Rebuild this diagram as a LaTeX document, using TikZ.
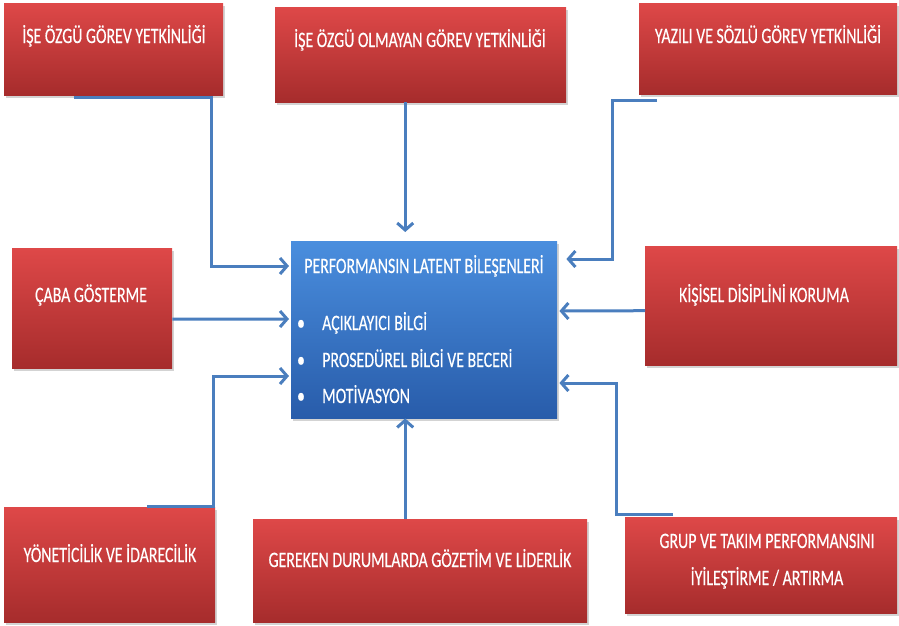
\documentclass[tikz,border=0pt]{standalone}
\usepackage{fontspec}
\setmainfont{Carlito}[FakeStretch=0.72,FakeBold=0.3]
\usetikzlibrary{arrows.meta,shadows,calc}

\definecolor{redtop}{RGB}{222,72,72}
\definecolor{redbot}{RGB}{166,44,44}
\definecolor{bluetop}{RGB}{74,142,222}
\definecolor{bluebot}{RGB}{40,92,170}
\definecolor{linkblue}{RGB}{74,126,190}

\tikzset{
  card/.style={rectangle, anchor=north west, inner sep=0pt, draw=none,
    drop shadow={opacity=0.35, shadow xshift=2pt, shadow yshift=-3pt}},
  redcard/.style={card, top color=redtop, bottom color=redbot},
  bluecard/.style={card, top color=bluetop, bottom color=bluebot},
  lbl/.style={text=white, font=\fontsize{22}{26}\selectfont, anchor=base, inner sep=0pt},
  item/.style={lbl, anchor=base west},
  conn/.style={draw=linkblue, line width=3pt,
    -{Straight Barb[length=7pt,width=16pt]}}
}

\begin{document}
\begin{tikzpicture}[x=1pt,y=-1pt]
\useasboundingbox (0,0) rectangle (899,625);

% surrounding cards
\node[redcard, minimum width=219pt, minimum height=92pt] (b1) at (4,3) {};
\node[redcard, minimum width=291pt, minimum height=95pt] (b2) at (275,7) {};
\node[redcard, minimum width=258pt, minimum height=91pt] (b3) at (639,3) {};
\node[redcard, minimum width=160pt, minimum height=120pt] (b4) at (12,248) {};
\node[redcard, minimum width=252pt, minimum height=119pt] (b6) at (645,246) {};
\node[redcard, minimum width=211pt, minimum height=115pt] (b7) at (4,507) {};
\node[redcard, minimum width=334pt, minimum height=103pt] (b8) at (253,519) {};
\node[redcard, minimum width=272pt, minimum height=96pt] (b9) at (625,517) {};

% central card
\node[bluecard, minimum width=266pt, minimum height=177pt] (c) at (291,241) {};

% card texts
\node[lbl] (t1) at (114,43) {İŞE ÖZGÜ GÖREV YETKİNLİĞİ};
\node[lbl] (t2) at (420,47) {İŞE ÖZGÜ OLMAYAN GÖREV YETKİNLİĞİ};
\node[lbl] (t3) at (768,43) {YAZILI VE SÖZLÜ GÖREV YETKİNLİĞİ};
\node[lbl] (t4) at (91,302) {ÇABA GÖSTERME};
\node[lbl] (t6) at (764,302) {KİŞİSEL DİSİPLİNİ KORUMA};
\node[lbl] (t7) at (110,562) {YÖNETİCİLİK VE İDARECİLİK};
\node[lbl] (t8) at (420,567) {GEREKEN DURUMLARDA GÖZETİM VE LİDERLİK};
\node[lbl] (t9a) at (767,548) {GRUP VE TAKIM PERFORMANSINI};
\node[lbl] (t9b) at (767,585) {İYİLEŞTİRME / ARTIRMA};

\node[lbl] (ct) at (424,273) {PERFORMANSIN LATENT BİLEŞENLERİ};
\node[lbl] (k1) at (301,330) {\textbullet};
\node[lbl] (k2) at (301,367) {\textbullet};
\node[lbl] (k3) at (301,403) {\textbullet};
\node[item] (i1) at (322,330) {AÇIKLAYICI BİLGİ};
\node[item] (i2) at (322,367) {PROSEDÜREL BİLGİ VE BECERİ};
\node[item] (i3) at (322,403) {MOTİVASYON};

% vertical line of the top and bottom connectors
\coordinate (axis) at ($(c.north)+(-19,0)$);

% connectors into the central card
\draw[conn] ($(b1.south west)+(70,2)$) -- ++(137,0) |- ($(c.north west)+(-2,25)$);
\draw[conn] (axis |- b2.south) -- ($(axis)+(0,-9)$);
\draw[conn] ($(b3.south west)+(18,6)$) -- ++(-45,0) |- ($(c.north east)+(9,18)$);
\draw[conn] ($(b4.east)+(0,11)$) -- ($(c.north west)+(-2,78)$);
\draw[conn] ($(b6.west)+(0,5)$) -- ($(c.north east)+(2,70)$);
\draw[conn] ($(b7.north west)+(143,-1)$) -- ++(66,0) |- ($(c.north west)+(-2,135)$);
\draw[conn] (axis |- b8.north) -- (axis |- c.south);
\draw[conn] ($(b9.north west)+(48,-3)$) -- ++(-57,0) |- ($(c.north east)+(2,142)$);
\end{tikzpicture}
\end{document}
